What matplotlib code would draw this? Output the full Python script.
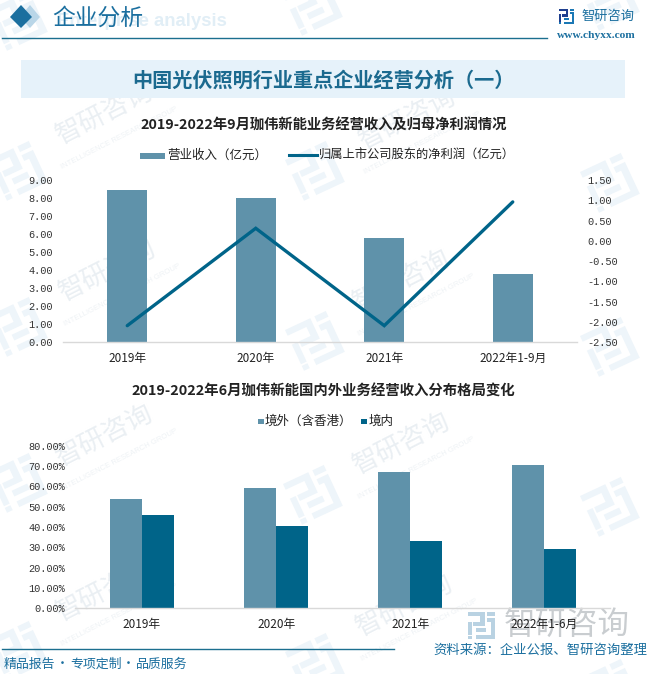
import matplotlib
matplotlib.use("Agg")
import matplotlib.pyplot as plt
from matplotlib.patches import Polygon, Rectangle
from matplotlib.ticker import FormatStrFormatter, FuncFormatter
import numpy as np

CJK = 'Noto Sans CJK SC'
MONO = ['Liberation Mono', CJK]
plt.rcParams['font.family'] = [CJK, 'DejaVu Sans']

# ---- data ----
cats1 = ['2019年', '2020年', '2021年', '2022年1-9月']
revenue = [8.45, 8.00, 5.78, 3.79]
profit = [-2.09, 0.31, -2.09, 0.96]
cats2 = ['2019年', '2020年', '2021年', '2022年1-6月']
overseas = [53.8, 59.3, 67.2, 70.6]
domestic = [45.9, 40.5, 33.1, 29.1]

W, H = 650, 674
C_BAR = '#5f92aa'
C_DARK = '#006489'
C_HEAD = '#1b6f9f'
C_TXT = '#222222'

fig = plt.figure(figsize=(W/100, H/100), dpi=100, facecolor='white')

def px_axes(x0, y0, x1, y1, **kw):
    return fig.add_axes([x0/W, 1-y1/H, (x1-x0)/W, (y1-y0)/H], **kw)

bg = fig.add_axes([0, 0, 1, 1], zorder=0)
bg.set_xlim(0, W); bg.set_ylim(H, 0); bg.axis('off')

def logo(ax, x, y, s, c1, c2, rot=0, z=1):
    t = np.deg2rad(rot)
    R = np.array([[np.cos(t), -np.sin(t)], [np.sin(t), np.cos(t)]])
    def P(pts, c):
        pts = np.array(pts, float) * s
        pts = pts @ R.T + [x, y]
        ax.add_patch(Polygon(pts, closed=True, fc=c, ec='none', zorder=z))
    P([(0, 0), (.62, 0), (.62, .5), (.18, .5), (.18, .36), (.46, .36), (.46, .14), (0, .14)], c1)
    P([(0, .36), (.14, .36), (.14, .84), (0, .84)], c1)
    P([(0, .88), (.14, .88), (.14, 1), (0, 1)], c2)
    P([(.72, 0), (1, 0), (1, .14), (.72, .14)], c2)
    P([(.72, .22), (1, .22), (1, 1), (.3, 1), (.3, .86), (.84, .86), (.84, .36), (.72, .36)], c2)
    P([(.3, .6), (.68, .6), (.68, .74), (.3, .74)], c2)

# watermarks
wm_c = '#eef5fa'
for (lx, ly) in [(-12, 10), (283, -5), (580, -10),
                 (-12, 160), (285, 160), (580, 172),
                 (-12, 316), (285, 330), (580, 336),
                 (-12, 472), (283, 484), (580, 496),
                 (-12, 640), (285, 652), (580, 678)]:
    logo(bg, lx, ly, 45, wm_c, wm_c, rot=-25, z=0.5)
for (tx, ty) in [(105, 113), (108, 270), (105, 435), (105, 590),
                 (408, 118), (402, 280), (402, 443), (405, 605)]:
    bg.text(tx, ty, '智研咨询', fontsize=19, color='#eaeff3', rotation=27,
            ha='center', va='center', zorder=0.6)
    bg.text(tx+14, ty+25, 'INTELLIGENCE RESEARCH GROUP', fontsize=5.5, color='#eef2f5', rotation=27,
            ha='center', va='center', family='Liberation Sans', zorder=0.6)

# header
bg.add_patch(Polygon([(20, 17), (30, 5), (40, 17), (30, 28)], fc='#b9d6e8', ec='none', zorder=1))
bg.add_patch(Polygon([(10, 17), (21, 5), (32, 17), (21, 28)], fc=C_HEAD, ec='none', zorder=2))
bg.text(57, 22, 'Enterprise analysis', fontsize=13.4, fontweight='bold', color='#e1eef6',
        family='Liberation Sans', ha='left', va='center', zorder=1)
bg.text(52, 18.5, '企业分析', fontsize=16.4, fontweight='medium', color=C_HEAD, ha='left', va='center', zorder=2)
bg.plot([2, 547], [37.5, 37.5], color='#1b6f8f', lw=1, zorder=2)
logo(bg, 559, 9, 15, '#1f3f8f', '#1b78b5', z=2)
bg.text(581, 16, '智研咨询', fontsize=9.5, color='#1b6f9f', ha='left', va='center', zorder=2)
bg.text(557, 36, 'www.chyxx.com', fontsize=8.2, color='#1b6f9f', family='Liberation Serif',
        ha='left', va='center', zorder=2, fontweight='bold')

# banner
bg.add_patch(Rectangle((21, 60), 604, 38, fc='#e6f2fa', ec='none', zorder=1))
bg.text(323, 80.5, '中国光伏照明行业重点企业经营分析（一）', fontsize=14.5, fontweight='bold',
        color='#1b6a8f', ha='center', va='center', zorder=2)

# chart titles and legends
bg.text(323.5, 126, '2019-2022年9月珈伟新能业务经营收入及归母净利润情况', fontsize=10.3, fontweight='bold',
        color=C_TXT, ha='center', va='center', zorder=2)
bg.add_patch(Rectangle((140, 152.5), 25, 6, fc=C_BAR, ec='none', zorder=2))
bg.text(167, 155, '营业收入（亿元）', fontsize=9, color=C_TXT, ha='left', va='center', zorder=2)
bg.plot([289, 317], [155, 155], color=C_DARK, lw=2.2, zorder=2)
bg.text(319, 155, '归属上市公司股东的净利润（亿元）', fontsize=8.85, color=C_TXT, ha='left', va='center', zorder=2)

bg.text(323.5, 392, '2019-2022年6月珈伟新能国内外业务经营收入分布格局变化', fontsize=10.35, fontweight='bold',
        color=C_TXT, ha='center', va='center', zorder=2)
bg.add_patch(Rectangle((258, 418.5), 5.5, 5.5, fc=C_BAR, ec='none', zorder=2))
bg.text(265, 421, '境外（含香港）', fontsize=9, color=C_TXT, ha='left', va='center', zorder=2)
bg.add_patch(Rectangle((361, 418.5), 5.5, 5.5, fc=C_DARK, ec='none', zorder=2))
bg.text(369, 421, '境内', fontsize=9, color=C_TXT, ha='left', va='center', zorder=2)

# chart 1
ax1 = px_axes(63, 180, 577, 342.3, facecolor='none', zorder=3)
x = np.arange(len(cats1))
ax1.bar(x, revenue, width=0.31, color=C_BAR, zorder=2)
ax1.set_xlim(-0.5, 3.5); ax1.set_ylim(0, 9)
ax1.set_yticks(np.arange(0, 10))
ax1.yaxis.set_major_formatter(FormatStrFormatter('%.2f'))
ax1.set_xticks(x); ax1.set_xticklabels(cats1)
ax2 = ax1.twinx()
ax2.set_facecolor('none')
ax2.plot(x, profit, color=C_DARK, lw=2.4, solid_capstyle='round', solid_joinstyle='miter', zorder=3)
ax2.set_ylim(-2.5, 1.5)
ax2.set_yticks(np.arange(-2.5, 2.0, 0.5))
ax2.yaxis.set_major_formatter(FormatStrFormatter('%.2f'))

# chart 2
ax3 = px_axes(75, 446, 610, 608, facecolor='none', zorder=3)
x2 = np.arange(len(cats2))
bw = 0.239
ax3.bar(x2-bw/2, overseas, width=bw, color=C_BAR, zorder=2)
ax3.bar(x2+bw/2, domestic, width=bw, color=C_DARK, zorder=2)
ax3.set_xlim(-0.5, 3.49); ax3.set_ylim(0, 80)
ax3.set_yticks(np.arange(0, 90, 10))
ax3.yaxis.set_major_formatter(FuncFormatter(lambda v, p: f'{v:.2f}%'))
ax3.set_xticks(x2); ax3.set_xticklabels(cats2)

for a in (ax1, ax2, ax3):
    for s in a.spines.values():
        s.set_visible(False)
    a.tick_params(length=0, pad=7.2)
    a.tick_params(axis='x', labelsize=8.5, labelcolor=C_TXT, labelfontfamily=CJK)
    a.tick_params(axis='y', labelsize=7.4, labelcolor='#333333', labelfontfamily='Liberation Mono')
for a in (ax1, ax3):
    a.spines['bottom'].set_visible(True)
    a.spines['bottom'].set_color('#d9d9d9')
    a.spines['bottom'].set_linewidth(1.0)

# footer
bg.plot([2, 394], [649, 649], color='#1b6f8f', lw=1, zorder=2)
for fx, ft in [(4, '精品报告'), (70, '专项定制'), (136, '品质服务')]:
    bg.text(fx, 664, ft, fontsize=9.3, color=C_HEAD, ha='left', va='center', zorder=2)
for fx in (62.5, 128.5):
    bg.text(fx, 664, '·', fontsize=9.3, color=C_HEAD, ha='center', va='center', zorder=2)
logo(bg, 468, 612, 27, '#b9d2e2', '#b9d2e2', z=2)
bg.text(504, 624.5, '智研咨询', fontsize=22.7, color='#c9cdd0', ha='left', va='center', zorder=2)
bg.text(647, 650, '资料来源：企业公报、智研咨询整理', fontsize=9.6, color=C_HEAD, ha='right', va='center', zorder=4)

fig.savefig('out.png', dpi=100, facecolor='white')
